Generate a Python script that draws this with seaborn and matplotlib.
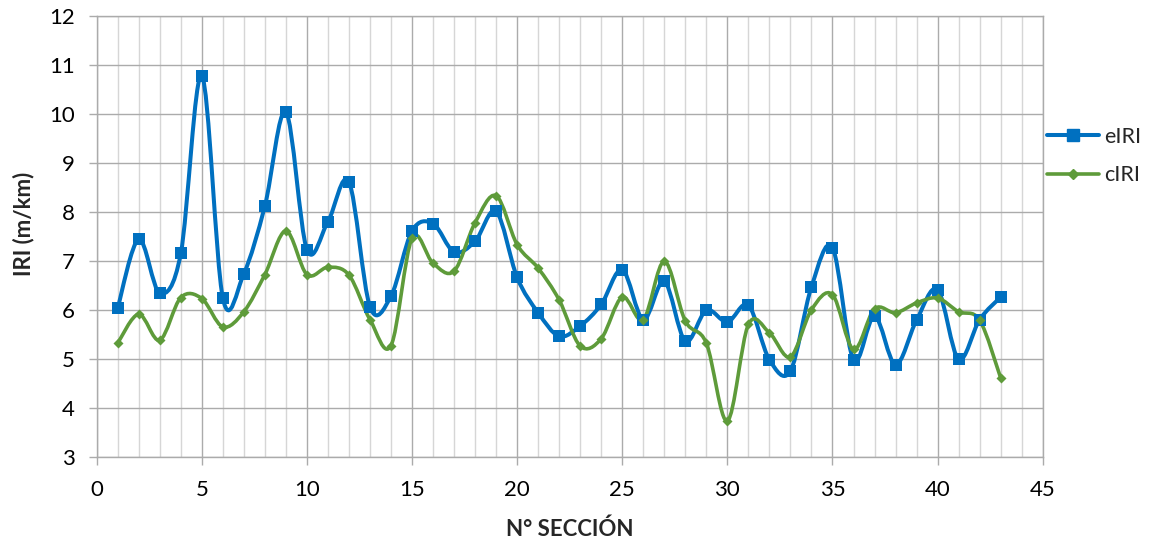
import numpy as np
import pandas as pd
import matplotlib
matplotlib.use("Agg")
import matplotlib.pyplot as plt
from matplotlib.path import Path
from matplotlib.patches import PathPatch
from matplotlib.lines import Line2D
from matplotlib.ticker import MultipleLocator
import seaborn as sns

# IRI per section
seccion = list(range(1, 44))
eiri = [6.04, 7.44, 6.34, 7.15, 10.78, 6.24, 6.74, 8.12, 10.04, 7.23,
        7.80, 8.61, 6.06, 6.28, 7.61, 7.76, 7.18, 7.40, 8.01, 6.66,
        5.94, 5.46, 5.67, 6.11, 6.82, 5.80, 6.58, 5.36, 5.99, 5.75,
        6.09, 4.98, 4.75, 6.47, 7.27, 4.98, 5.87, 4.88, 5.79, 6.41,
        4.99, 5.80, 6.26]
ciri = [5.32, 5.91, 5.38, 6.25, 6.23, 5.65, 5.96, 6.72, 7.61, 6.72,
        6.87, 6.71, 5.80, 5.27, 7.46, 6.95, 6.79, 7.78, 8.33, 7.33,
        6.85, 6.20, 5.26, 5.41, 6.26, 5.80, 6.99, 5.77, 5.32, 3.73,
        5.70, 5.53, 5.04, 6.00, 6.31, 5.19, 6.02, 5.94, 6.14, 6.24,
        5.96, 5.79, 4.61]
series_names = ["eIRI", "cIRI"]

BLUE = "#0070C0"
GREEN = "#5E9B3A"
GRID_MAJOR = "#ABABAB"
GRID_MINOR = "#D6D6D6"

sns.set_style("white")
plt.rcParams["font.family"] = ["Lato", "DejaVu Sans"]

df = pd.DataFrame({"seccion": seccion, "eIRI": eiri, "cIRI": ciri})

W, H = 1154, 544
fig = plt.figure(figsize=(W / 100, H / 100), dpi=100)
x0, x1, y0, y1 = 96.7, 1042.7, 16.0, 456.7
ax = fig.add_axes([x0 / W, 1 - y1 / H, (x1 - x0) / W, (y1 - y0) / H])


def smooth_path(xs, ys):
    """Cubic Bezier path through the points (Catmull-Rom style smoothing)."""
    p = np.column_stack([xs, ys]).astype(float)
    ext = np.vstack([p[0], p, p[-1]])
    verts = [p[0]]
    codes = [Path.MOVETO]
    for i in range(len(p) - 1):
        a, b, c, d = ext[i], ext[i + 1], ext[i + 2], ext[i + 3]
        verts += [b + (c - a) / 6.0, c - (d - b) / 6.0, c]
        codes += [Path.CURVE4] * 3
    return Path(verts, codes)


# grid
ax.set_xlim(0, 45)
ax.set_ylim(3, 12)
ax.xaxis.set_major_locator(MultipleLocator(5))
ax.xaxis.set_minor_locator(MultipleLocator(1))
ax.yaxis.set_major_locator(MultipleLocator(1))
ax.grid(False)
ax.grid(True, which="minor", axis="x", color=GRID_MINOR, lw=1.0, zorder=0)
ax.grid(True, which="major", axis="x", color=GRID_MAJOR, lw=1.0, zorder=0)
ax.grid(True, which="major", axis="y", color=GRID_MAJOR, lw=1.0, zorder=0)
ax.set_axisbelow(True)

# smoothed lines
for col, color, lw in [("eIRI", BLUE, 2.9), ("cIRI", GREEN, 2.6)]:
    ax.add_patch(PathPatch(smooth_path(df["seccion"], df[col]), fill=False,
                           edgecolor=color, lw=lw, zorder=3,
                           capstyle="round", joinstyle="round"))

# markers
sns.scatterplot(data=df, x="seccion", y="eIRI", marker="s", s=80,
                color=BLUE, edgecolor=BLUE, linewidth=0, zorder=4, ax=ax)
sns.scatterplot(data=df, x="seccion", y="cIRI", marker="D", s=26,
                color=GREEN, edgecolor=GREEN, linewidth=0, zorder=4, ax=ax)

# axes styling
for s in ax.spines.values():
    s.set_color(GRID_MAJOR)
    s.set_linewidth(1.0)
ax.tick_params(axis="both", which="major", labelsize=16, colors="black",
               length=6, width=1.0, color=GRID_MAJOR, direction="out")
ax.tick_params(axis="x", which="major", pad=11)
ax.tick_params(axis="y", which="major", pad=10, left=True)
ax.tick_params(axis="x", which="major", bottom=True)
ax.tick_params(axis="both", which="minor", length=0)

ax.set_xlabel("N° SECCIÓN", fontsize=16, fontweight="bold")
ax.set_ylabel("IRI (m/km)", fontsize=16, fontweight="bold")
ax.xaxis.set_label_coords(0.5, -(519 - y1) / (y1 - y0))
ax.yaxis.set_label_coords(-(x0 - 34) / (x1 - x0), (y1 - 224) / (y1 - y0))

handles = [
    Line2D([], [], color=BLUE, lw=2.9, marker="s", markersize=8.5),
    Line2D([], [], color=GREEN, lw=2.6, marker="D", markersize=5),
]
fig.legend(handles, series_names, loc="center left",
           bbox_to_anchor=(1047 / W, 1 - 156 / H), bbox_transform=fig.transFigure,
           frameon=False, fontsize=15.5, handlelength=2.4, handletextpad=0.25,
           borderpad=0, borderaxespad=0, labelspacing=0.85)

fig.savefig("out.png", dpi=100)
